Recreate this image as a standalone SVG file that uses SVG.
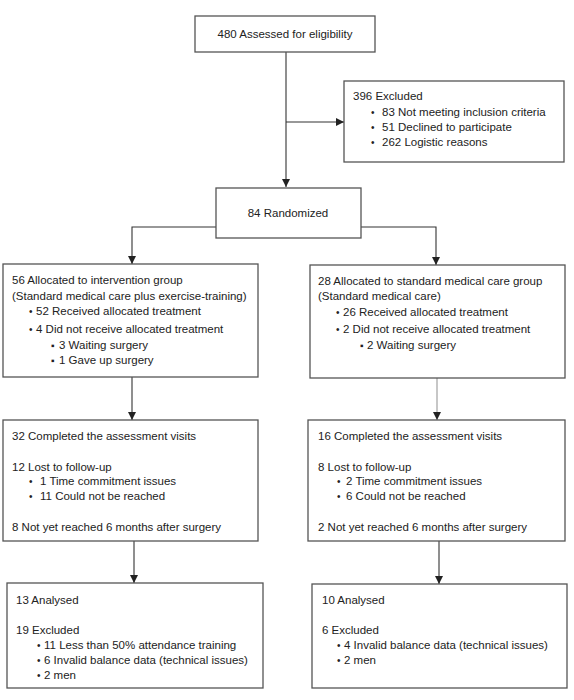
<svg xmlns="http://www.w3.org/2000/svg" width="574" height="700" viewBox="0 0 574 700">
<defs>
<marker id="ah" viewBox="0 0 8 8" refX="8" refY="4" markerWidth="8" markerHeight="8" markerUnits="userSpaceOnUse" orient="auto">
<path d="M0,0 L8,4 L0,8 z" fill="#222"/>
</marker>
<style>
.box{fill:#fff;stroke:#555;stroke-width:1.3}
text{font-family:"Liberation Sans",Arial,sans-serif;font-size:11.5px;fill:#222}
.b{font-size:10px}
.c{text-anchor:middle}
.ln{stroke:#333;stroke-width:1.1;fill:none}
.lg{stroke:#999;stroke-width:1.1;fill:none}
</style>
</defs>
<rect width="574" height="700" fill="#fff"/>
<g id="connectors">
<path class="ln" d="M286,52 V187" marker-end="url(#ah)"/>
<path class="ln" d="M286,122 H344" marker-end="url(#ah)"/>
<path class="ln" d="M216,227 H132 V264" marker-end="url(#ah)"/>
<path class="ln" d="M361,227 H436 V265" marker-end="url(#ah)"/>
<path class="ln" d="M132,377 V420" marker-end="url(#ah)"/>
<path class="lg" d="M437,378 V420" marker-end="url(#ah)"/>
<path class="ln" d="M134,541 V583" marker-end="url(#ah)"/>
<path class="ln" d="M439,541 V584" marker-end="url(#ah)"/>
</g>
<g id="assessed">
<rect class="box" x="195" y="16" width="180" height="36"/>
<text class="c" x="285" y="38">480 Assessed for eligibility</text>
</g>
<g id="excluded">
<rect class="box" x="344" y="81" width="220" height="81"/>
<text x="353" y="100">396 Excluded</text>
<text class="b" x="371" y="116">•</text><text x="382" y="116">83 Not meeting inclusion criteria</text>
<text class="b" x="371" y="131">•</text><text x="382" y="131">51 Declined to participate</text>
<text class="b" x="371" y="146">•</text><text x="382" y="146">262 Logistic reasons</text>
</g>
<g id="randomized">
<rect class="box" x="216" y="188" width="145" height="50"/>
<text class="c" x="288" y="217">84 Randomized</text>
</g>
<g id="intervention">
<rect class="box" x="3" y="264" width="255" height="113"/>
<text x="12" y="284">56 Allocated to intervention group</text>
<text x="12" y="300">(Standard medical care plus exercise-training)</text>
<text class="b" x="29" y="315">•</text><text x="36" y="315">52 Received allocated treatment</text>
<text class="b" x="29" y="333">•</text><text x="36" y="333">4 Did not receive allocated treatment</text>
<text class="b" x="51" y="349">▪</text><text x="59" y="349">3 Waiting surgery</text>
<text class="b" x="51" y="364">▪</text><text x="59" y="364">1 Gave up surgery</text>
</g>
<g id="standard">
<rect class="box" x="310" y="265" width="255" height="113"/>
<text x="318" y="285">28 Allocated to standard medical care group</text>
<text x="318" y="300">(Standard medical care)</text>
<text class="b" x="336" y="316">•</text><text x="343" y="316">26 Received allocated treatment</text>
<text class="b" x="336" y="333">•</text><text x="343" y="333">2 Did not receive allocated treatment</text>
<text class="b" x="360" y="349">▪</text><text x="367" y="349">2 Waiting surgery</text>
</g>
<g id="completed-left">
<rect class="box" x="3" y="420" width="255" height="121"/>
<text x="12" y="440">32 Completed the assessment visits</text>
<text x="12" y="471">12 Lost to follow-up</text>
<text class="b" x="29" y="485">•</text><text x="40" y="485">1 Time commitment issues</text>
<text class="b" x="29" y="500">•</text><text x="40" y="500">11 Could not be reached</text>
<text x="12" y="531">8 Not yet reached 6 months after surgery</text>
</g>
<g id="completed-right">
<rect class="box" x="308" y="420" width="257" height="121"/>
<text x="318" y="440">16 Completed the assessment visits</text>
<text x="318" y="471">8 Lost to follow-up</text>
<text class="b" x="337" y="485">•</text><text x="346" y="485">2 Time commitment issues</text>
<text class="b" x="337" y="500">•</text><text x="346" y="500">6 Could not be reached</text>
<text x="318" y="531">2 Not yet reached 6 months after surgery</text>
</g>
<g id="analysed-left">
<rect class="box" x="7" y="583" width="256" height="105"/>
<text x="16" y="604">13 Analysed</text>
<text x="16" y="634">19 Excluded</text>
<text class="b" x="37" y="649">•</text><text x="44" y="649">11 Less than 50% attendance training</text>
<text class="b" x="37" y="664">•</text><text x="44" y="664">6 Invalid balance data (technical issues)</text>
<text class="b" x="37" y="679">•</text><text x="44" y="679">2 men</text>
</g>
<g id="analysed-right">
<rect class="box" x="312" y="584" width="255" height="104"/>
<text x="322" y="604">10 Analysed</text>
<text x="322" y="634">6 Excluded</text>
<text class="b" x="337" y="649">•</text><text x="344" y="649">4 Invalid balance data (technical issues)</text>
<text class="b" x="337" y="664">•</text><text x="344" y="664">2 men</text>
</g>
</svg>
